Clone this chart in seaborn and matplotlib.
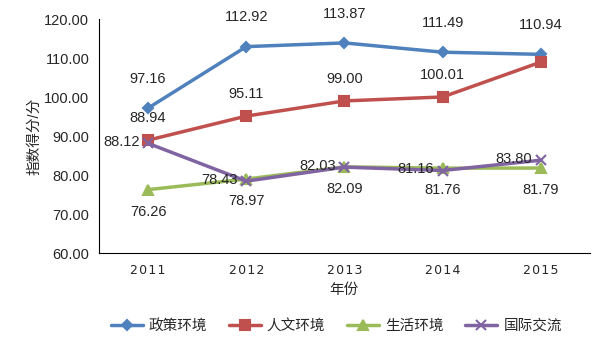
import seaborn as sns
import pandas as pd
import matplotlib.pyplot as plt
from matplotlib.ticker import MultipleLocator, FixedLocator

years = ["2011", "2012", "2013", "2014", "2015"]
policy = [97.16, 112.92, 113.87, 111.49, 110.94]
culture = [88.94, 95.11, 99.00, 100.01, 108.95]
living = [76.26, 78.97, 82.09, 81.76, 81.79]
exchange = [88.12, 78.43, 82.03, 81.16, 83.80]

series_names = ["政策环境", "人文环境", "生活环境", "国际交流"]
series_vals = [policy, culture, living, exchange]
colors = ["#4F81BD", "#C0504D", "#9BBB59", "#8064A2"]
markers = ["D", "s", "^", "x"]
msizes = [5.5, 7, 7, 7]

sns.set_style("white")
plt.rcParams['font.family'] = ['Liberation Sans', 'Noto Sans CJK SC']

fig = plt.figure(figsize=(6.09, 3.62), dpi=100)
ax = fig.add_axes([0.1626, 0.301, 0.806, 0.6465])

x_pos = list(range(len(years)))
for name, vals, c, m, ms in zip(series_names, series_vals, colors, markers, msizes):
    sns.lineplot(x=x_pos, y=vals, color=c, marker=m, linewidth=2.5,
                 markersize=ms, markeredgewidth=1.5, markeredgecolor=c,
                 markerfacecolor=c, ax=ax, label=name, legend=False)

# data labels
for i, v in enumerate(policy):
    ax.annotate(f"{v:.2f}", (i, v), xytext=(0, 16), textcoords="offset points",
                ha="center", va="bottom", fontsize=10.5)
for i, v in enumerate(culture[:4]):
    ax.annotate(f"{v:.2f}", (i, v), xytext=(0, 11), textcoords="offset points",
                ha="center", va="bottom", fontsize=10.5)
for i, v in enumerate(living):
    ax.annotate(f"{v:.2f}", (i, v), xytext=(0, -11), textcoords="offset points",
                ha="center", va="top", fontsize=10.5)
for i, v in enumerate(exchange):
    ax.annotate(f"{v:.2f}", (i, v), xytext=(-6, 1), textcoords="offset points",
                ha="right", va="center", fontsize=10.5)

ax.set_xlim(-0.5, 4.5)
ax.set_ylim(60, 120)
ax.yaxis.set_major_locator(MultipleLocator(10))
ax.set_yticks(ax.get_yticks())
ax.set_yticklabels([f"{t:.2f}" for t in ax.get_yticks()], fontsize=10.5)
ax.set_ylim(60, 120)
ax.set_xticks(x_pos)
# spaced-out year labels like the original
ax.set_xticklabels(["\u200a".join(y) for y in years], fontsize=9)
ax.xaxis.set_minor_locator(FixedLocator([-0.5, 0.5, 1.5, 2.5, 3.5, 4.5]))
ax.tick_params(axis="x", which="major", length=0, pad=8)
ax.tick_params(axis="x", which="minor", length=4, direction="out", width=1)
ax.tick_params(axis="y", length=4, direction="out", width=1, pad=3)
for lbl in ax.get_xticklabels():
    lbl.set_fontfamily("DejaVu Sans")

ax.spines["top"].set_visible(False)
ax.spines["right"].set_visible(False)
ax.spines["left"].set_color("black")
ax.spines["bottom"].set_color("black")

ax.set_xlabel("年份", fontsize=10.5, labelpad=4)
ax.set_ylabel("指数得分/分", fontsize=10.5, labelpad=2)

handles = [plt.Line2D([], [], color=c, marker=m, linewidth=2.5, markersize=ms,
                      markeredgewidth=1.5, markeredgecolor=c, markerfacecolor=c)
           for c, m, ms in zip(colors, markers, msizes)]
fig.legend(handles, series_names, loc="center", bbox_to_anchor=(0.552, 0.1),
           ncol=4, frameon=False, fontsize=10.5, handlelength=2.2,
           columnspacing=1.5, handletextpad=0.4)

fig.savefig("out.png", dpi=100)
